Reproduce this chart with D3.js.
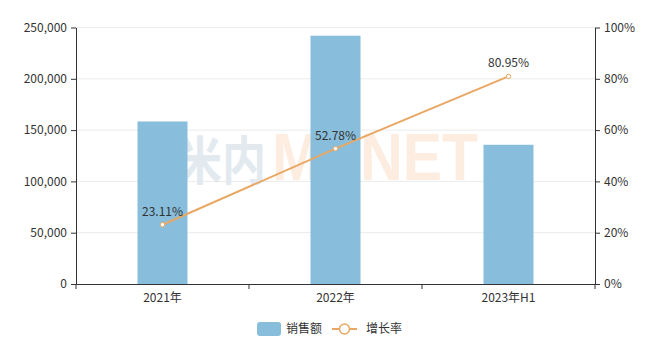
<!DOCTYPE html>
<html>
<head>
<meta charset="utf-8">
<script src="https://cdn.jsdelivr.net/npm/d3@7"></script>
<style>
  body { margin: 0; background: #fff; }
  svg text { font-family: "Noto Sans CJK SC", "Noto Sans", sans-serif; }
</style>
</head>
<body>
<svg id="chart" width="666" height="351"></svg>
<script>
// DATA
const categories = ["2021年", "2022年", "2023年H1"];
const sales = [158400, 242000, 135700];
const growth = [23.11, 52.78, 80.95];
const salesTicks = [0, 50000, 100000, 150000, 200000, 250000];
const growthTicks = [0, 20, 40, 60, 80, 100];

// CANVAS SETUP
const svg = d3.select("#chart");
const margin = { top: 27.5, right: 71, bottom: 67, left: 76 };
const width = +svg.attr("width") - margin.left - margin.right,
  height = +svg.attr("height") - margin.top - margin.bottom;

const barColor = "#88bedc",
  lineColor = "#e8a864",
  textColor = "#333";

const g = svg.append("g").attr("transform", `translate(${margin.left},${margin.top})`);

const x = d3.scaleBand().domain(categories).range([0, width]);
const yL = d3.scaleLinear().domain([0, 250000]).range([height, 0]);
const yR = d3.scaleLinear().domain([0, 100]).range([height, 0]);

// grid
g.append("g")
  .selectAll("line")
  .data(salesTicks.slice(1))
  .join("line")
  .attr("x1", 0)
  .attr("x2", width)
  .attr("y1", (d) => yL(d))
  .attr("y2", (d) => yL(d))
  .attr("stroke", "#ebebeb");

// watermark
const wm = g.append("g").attr("font-weight", "bold");
wm.append("text")
  .attr("x", 102).attr("y", 152)
  .attr("font-size", 52)
  .attr("textLength", 88).attr("lengthAdjust", "spacingAndGlyphs")
  .attr("fill", "#e2eaf0")
  .text("米内");
wm.append("text")
  .attr("x", 196).attr("y", 152)
  .attr("font-size", 66)
  .attr("textLength", 206).attr("lengthAdjust", "spacingAndGlyphs")
  .attr("fill", "#fcede0")
  .style("font-family", "'Liberation Sans', sans-serif")
  .text("MENET");

// bars
const barW = 50;
g.append("g")
  .selectAll("rect")
  .data(categories)
  .join("rect")
  .attr("x", (d) => x(d) + x.bandwidth() / 2 - barW / 2)
  .attr("y", (d, i) => yL(sales[i]))
  .attr("width", barW)
  .attr("height", (d, i) => height - yL(sales[i]))
  .attr("fill", barColor);

// axes
function styleAxis(sel) {
  sel.selectAll("path,line").attr("stroke", textColor);
  sel.selectAll("text")
    .attr("fill", textColor)
    .attr("font-size", 12)
    .style("font-family", "'Noto Sans CJK SC', 'Noto Sans', sans-serif");
}

g.append("g")
  .call(d3.axisLeft(yL).tickValues(salesTicks).tickFormat(d3.format(",")).tickSize(5).tickSizeOuter(0).tickPadding(4))
  .call(styleAxis);

g.append("g")
  .attr("transform", `translate(${width},0)`)
  .call(d3.axisRight(yR).tickValues(growthTicks).tickFormat((d) => d + "%").tickSize(5).tickSizeOuter(0).tickPadding(4))
  .call(styleAxis);

const xAxis = g.append("g")
  .attr("transform", `translate(0,${height})`)
  .call(d3.axisBottom(x).tickSize(0).tickSizeOuter(0).tickPadding(9))
  .call(styleAxis);
// ticks between categories
xAxis.selectAll(".sep")
  .data(d3.range(categories.length + 1))
  .join("line")
  .attr("class", "sep")
  .attr("x1", (i) => i * x.bandwidth())
  .attr("x2", (i) => i * x.bandwidth())
  .attr("y1", 0)
  .attr("y2", 5)
  .attr("stroke", textColor);

// line
const cx = (d, i) => x(categories[i]) + x.bandwidth() / 2;
g.append("path")
  .datum(growth)
  .attr("fill", "none")
  .attr("stroke", lineColor)
  .attr("stroke-width", 2)
  .attr("d", d3.line().x(cx).y((d) => yR(d)));

g.append("g")
  .selectAll("circle")
  .data(growth)
  .join("circle")
  .attr("cx", cx)
  .attr("cy", (d) => yR(d))
  .attr("r", 2.2)
  .attr("fill", "#fff")
  .attr("stroke", lineColor)
  .attr("stroke-width", 1);

g.append("g")
  .selectAll("text")
  .data(growth)
  .join("text")
  .attr("x", cx)
  .attr("y", (d) => yR(d) - 9)
  .attr("text-anchor", "middle")
  .attr("fill", textColor)
  .attr("font-size", 12)
  .text((d) => d.toFixed(2) + "%");

// legend
const lg = svg.append("g").attr("transform", "translate(0,329)");
lg.append("rect")
  .attr("x", 257).attr("y", -7).attr("width", 24).attr("height", 14)
  .attr("rx", 3).attr("fill", barColor);
lg.append("text")
  .attr("x", 286).attr("y", 0).attr("dy", "0.35em")
  .attr("fill", textColor).attr("font-size", 12).text("销售额");
lg.append("line")
  .attr("x1", 332).attr("x2", 357).attr("y1", 0).attr("y2", 0)
  .attr("stroke", lineColor).attr("stroke-width", 2);
lg.append("circle")
  .attr("cx", 344.5).attr("cy", 0).attr("r", 5)
  .attr("fill", "#fff").attr("stroke", lineColor).attr("stroke-width", 1.5);
lg.append("text")
  .attr("x", 366).attr("y", 0).attr("dy", "0.35em")
  .attr("fill", textColor).attr("font-size", 12).text("增长率");
</script>
</body>
</html>
